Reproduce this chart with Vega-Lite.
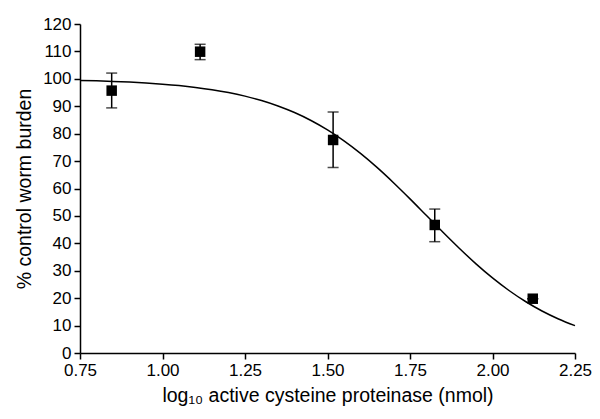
{
  "$schema": "https://vega.github.io/schema/vega-lite/v6.json",
  "width": 495,
  "height": 329,
  "autosize": {"type": "none"},
  "padding": {"left": 80, "top": 24, "right": 25, "bottom": 66},
  "background": "white",
  "config": {
    "view": {"stroke": null},
    "font": "Liberation Sans",
    "axis": {
      "grid": false,
      "domainColor": "black",
      "domainWidth": 1.5,
      "tickColor": "black",
      "tickWidth": 1.5,
      "tickSize": 6,
      "labelColor": "black",
      "labelFontSize": 17,
      "labelFont": "Liberation Sans",
      "labelOverlap": false,
      "labelFlush": false,
      "titleColor": "black",
      "titleFontSize": 19.5,
      "titleFont": "Liberation Sans",
      "titleFontWeight": "normal"
    }
  },
  "datasets": {
    "points": [
      {"x": 0.846, "y": 95.7, "lo": 89.4, "hi": 102.1},
      {"x": 1.114, "y": 109.9, "lo": 107.0, "hi": 112.6},
      {"x": 1.517, "y": 77.7, "lo": 67.7, "hi": 87.9},
      {"x": 1.825, "y": 46.7, "lo": 40.6, "hi": 52.5},
      {"x": 2.122, "y": 19.8, "lo": 19.8, "hi": 19.8}
    ],
    "curve": [
      {"x": 0.75, "y": 99.42}, {"x": 0.80, "y": 99.26}, {"x": 0.85, "y": 99.06},
      {"x": 0.90, "y": 98.80}, {"x": 0.95, "y": 98.47}, {"x": 1.00, "y": 98.06},
      {"x": 1.05, "y": 97.54}, {"x": 1.10, "y": 96.87}, {"x": 1.15, "y": 96.04},
      {"x": 1.20, "y": 95.00}, {"x": 1.25, "y": 93.69}, {"x": 1.30, "y": 92.08},
      {"x": 1.35, "y": 90.10}, {"x": 1.40, "y": 87.70}, {"x": 1.45, "y": 84.80},
      {"x": 1.50, "y": 81.37}, {"x": 1.55, "y": 77.37}, {"x": 1.60, "y": 72.80},
      {"x": 1.65, "y": 67.69}, {"x": 1.70, "y": 62.12}, {"x": 1.75, "y": 56.22},
      {"x": 1.80, "y": 50.12}, {"x": 1.85, "y": 44.03}, {"x": 1.90, "y": 38.12},
      {"x": 1.95, "y": 32.52}, {"x": 2.00, "y": 27.39}, {"x": 2.05, "y": 22.80},
      {"x": 2.10, "y": 18.78}, {"x": 2.15, "y": 15.32}, {"x": 2.20, "y": 12.41},
      {"x": 2.25, "y": 9.98}
    ]
  },
  "layer": [
    {
      "data": {"name": "curve"},
      "mark": {"type": "line", "color": "black", "strokeWidth": 1.5, "interpolate": "monotone"},
      "encoding": {
        "x": {
          "field": "x", "type": "quantitative",
          "scale": {"domain": [0.75, 2.25], "nice": false, "zero": false},
          "axis": {"values": [0.75, 1.0, 1.25, 1.5, 1.75, 2.0, 2.25], "format": ".2f", "title": "log₁₀ active cysteine proteinase (nmol)", "titlePadding": 8, "labelPadding": 3}
        },
        "y": {
          "field": "y", "type": "quantitative",
          "scale": {"domain": [0, 120], "nice": false},
          "axis": {"values": [0, 10, 20, 30, 40, 50, 60, 70, 80, 90, 100, 110, 120], "tickCount": 13, "title": "% control worm burden", "titlePadding": 8, "labelPadding": 3}
        }
      }
    },
    {
      "data": {"name": "points"},
      "mark": {"type": "rule", "color": "black", "strokeWidth": 1.5},
      "encoding": {
        "x": {"field": "x", "type": "quantitative"},
        "y": {"field": "lo", "type": "quantitative",
          "axis": {"values": [0, 10, 20, 30, 40, 50, 60, 70, 80, 90, 100, 110, 120], "tickCount": 13, "title": "% control worm burden", "titlePadding": 8, "labelPadding": 3}},
        "y2": {"field": "hi"}
      }
    },
    {
      "data": {"name": "points"},
      "mark": {"type": "tick", "color": "black", "orient": "horizontal", "size": 11, "thickness": 1.5},
      "encoding": {
        "x": {"field": "x", "type": "quantitative"},
        "y": {"field": "lo", "type": "quantitative",
          "axis": {"values": [0, 10, 20, 30, 40, 50, 60, 70, 80, 90, 100, 110, 120], "tickCount": 13, "title": "% control worm burden", "titlePadding": 8, "labelPadding": 3}}
      }
    },
    {
      "data": {"name": "points"},
      "mark": {"type": "tick", "color": "black", "orient": "horizontal", "size": 11, "thickness": 1.5},
      "encoding": {
        "x": {"field": "x", "type": "quantitative"},
        "y": {"field": "hi", "type": "quantitative",
          "axis": {"values": [0, 10, 20, 30, 40, 50, 60, 70, 80, 90, 100, 110, 120], "tickCount": 13, "title": "% control worm burden", "titlePadding": 8, "labelPadding": 3}}
      }
    },
    {
      "data": {"name": "points"},
      "mark": {"type": "square", "color": "black", "opacity": 1, "filled": true, "size": 110},
      "encoding": {
        "x": {"field": "x", "type": "quantitative"},
        "y": {"field": "y", "type": "quantitative",
          "axis": {"values": [0, 10, 20, 30, 40, 50, 60, 70, 80, 90, 100, 110, 120], "tickCount": 13, "title": "% control worm burden", "titlePadding": 8, "labelPadding": 3}}
      }
    }
  ]
}
